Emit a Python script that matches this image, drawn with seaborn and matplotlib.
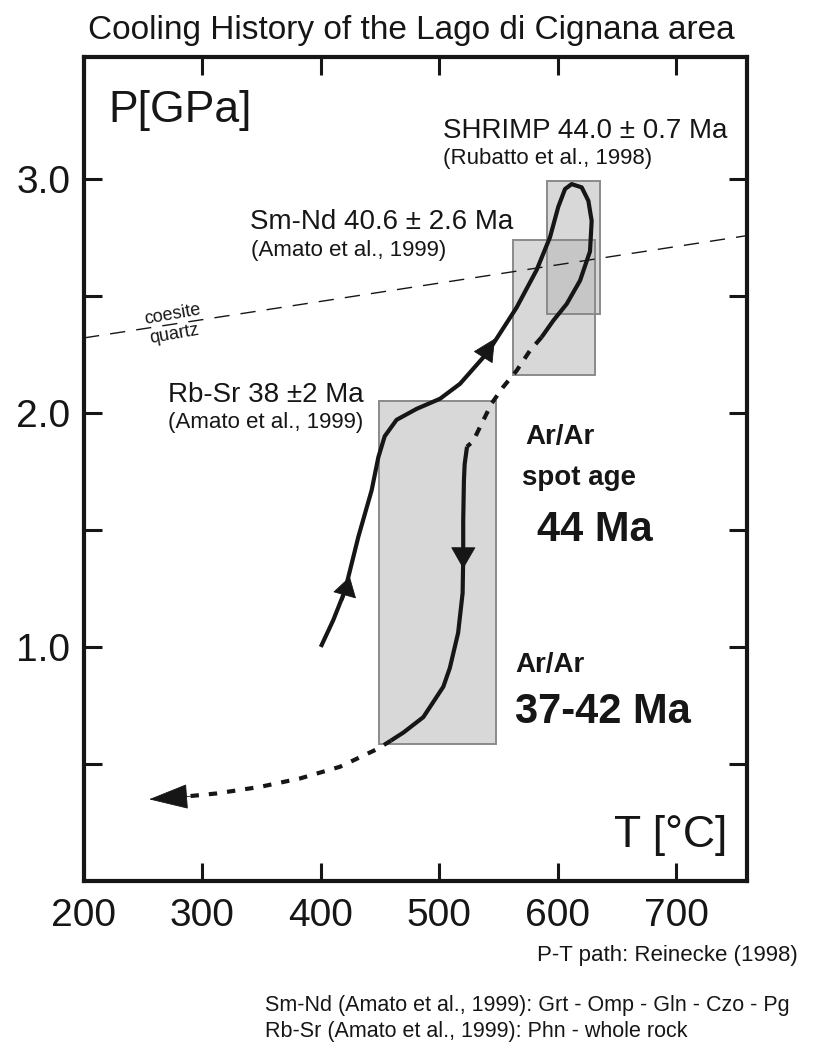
import numpy as np
import pandas as pd
import matplotlib
matplotlib.use("Agg")
import matplotlib.pyplot as plt
from matplotlib.patches import Rectangle
import seaborn as sns

# ---------------- data ----------------
x_ticks = [200, 300, 400, 500, 600, 700]
x_labels = ["200", "300", "400", "500", "600", "700"]
y_major = [1.0, 2.0, 3.0]
y_labels = ["1.0", "2.0", "3.0"]
y_minor = [0.5, 1.5, 2.5]

box_names = ["Rb-Sr", "Sm-Nd", "SHRIMP"]
box_tmin = [449, 562, 591]
box_tmax = [548, 632, 636]
box_pmin = [0.585, 2.16, 2.42]
box_pmax = [2.05, 2.74, 2.99]

coesite_T = [200, 760]
coesite_P = [2.32, 2.757]

# prograde path + peak loop (solid)
pro_T = [400, 410.5, 420.4, 431.7, 443, 448.6, 454, 464, 481, 500.7, 517.6,
         538.7, 545.7, 565.4, 582.3, 593.6, 600.6, 606.3, 611.9, 620.4, 626,
         628.8, 627.4, 619, 607.7, 596.4, 586.5]
pro_P = [1.0, 1.114, 1.24, 1.47, 1.67, 1.81, 1.90, 1.97, 2.017, 2.06, 2.124,
         2.245, 2.295, 2.45, 2.61, 2.75, 2.88, 2.956, 2.977, 2.963, 2.906,
         2.82, 2.69, 2.565, 2.465, 2.394, 2.323]
# retrograde dashed part
rdash_T = [586.5, 576.7, 565.4, 554, 544.3, 535.8, 528.8, 523.5]
rdash_P = [2.323, 2.266, 2.18, 2.11, 2.04, 1.953, 1.88, 1.855]
# retrograde solid part
rsol_T = [523.5, 521.5, 520.9, 520.3, 520.3, 519.8, 516, 509, 503.5, 486.6, 470, 459.3]
rsol_P = [1.855, 1.78, 1.71, 1.54, 1.38, 1.23, 1.06, 0.91, 0.83, 0.70, 0.635, 0.60]
# exhumation dashed part
edash_T = [459.3, 448.6, 416.2, 382.4, 348.6, 312, 286]
edash_P = [0.60, 0.566, 0.488, 0.438, 0.402, 0.374, 0.361]

# arrow heads (tail -> tip)
arr_tail_T = [419, 535, 520.4, 290]
arr_tail_P = [1.20, 2.22, 1.45, 0.362]
arr_tip_T = [424.5, 547, 520.3, 255]
arr_tip_P = [1.30, 2.317, 1.334, 0.349]
arr_len = [1.3, 1.5, 1.45, 2.6]
arr_wid = [0.8, 0.75, 0.83, 0.83]

# ---------------- style ----------------
sns.set_theme(style="ticks")
plt.rcParams["font.family"] = ["Liberation Sans", "DejaVu Sans"]
INK = "#161616"

fig = plt.figure(figsize=(8.2, 10.55), dpi=100)
ax = fig.add_axes([84 / 820, 1 - 881 / 1055, (747 - 84) / 820, (881 - 57) / 1055])
ax.set_facecolor("white")

# boxes
for t0, t1, p0, p1 in zip(box_tmin, box_tmax, box_pmin, box_pmax):
    ax.add_patch(Rectangle((t0, p0), t1 - t0, p1 - p0, facecolor="#b8b8b8",
                           alpha=0.55, edgecolor="none", zorder=1))
    ax.add_patch(Rectangle((t0, p0), t1 - t0, p1 - p0, facecolor="none",
                           edgecolor="#8a8a8a", lw=1.4, zorder=1.5))

# coesite-quartz reaction
sns.lineplot(x=coesite_T, y=coesite_P, ax=ax, color=INK, lw=1.0,
             linestyle=(0, (11, 8)), sort=False, estimator=None, zorder=2)
ax.text(275, 2.42, "coesite", rotation=10, ha="center", va="center",
        fontsize=13, color=INK)
ax.text(276, 2.335, "quartz", rotation=10, ha="center", va="center",
        fontsize=13, color=INK)

# P-T path
sns.lineplot(x=pro_T, y=pro_P, ax=ax, color=INK, lw=3.0, sort=False,
             estimator=None, zorder=4, solid_capstyle="butt")
sns.lineplot(x=rdash_T, y=rdash_P, ax=ax, color=INK, lw=3.0, sort=False,
             estimator=None, zorder=4, linestyle=(0, (2.2, 2.2)),
             dash_capstyle="butt")
sns.lineplot(x=rsol_T, y=rsol_P, ax=ax, color=INK, lw=3.0, sort=False,
             estimator=None, zorder=4, solid_capstyle="butt")
sns.lineplot(x=edash_T, y=edash_P, ax=ax, color=INK, lw=3.0, sort=False,
             estimator=None, zorder=4, linestyle=(0, (2.0, 2.4)),
             dash_capstyle="butt")

for tt, tp, ht, hp, L, W in zip(arr_tail_T, arr_tail_P, arr_tip_T, arr_tip_P,
                                arr_len, arr_wid):
    ax.annotate("", xy=(ht, hp), xytext=(tt, tp),
                arrowprops=dict(arrowstyle=f"-|>,head_length={L},head_width={W}",
                                color=INK, lw=0.6, shrinkA=0, shrinkB=0,
                                mutation_scale=10), zorder=5)

# labels
ax.text(220.3, 3.29, "P[GPa]", fontsize=32, ha="left", va="center", color=INK)
ax.text(743, 0.196, "T [°C]", fontsize=32, ha="right", va="center", color=INK)

ax.text(503, 3.205, "SHRIMP 44.0 ± 0.7 Ma", fontsize=20, ha="left", va="center", color=INK)
ax.text(503, 3.086, "(Rubatto et al., 1998)", fontsize=16, ha="left", va="center", color=INK)
ax.text(340, 2.817, "Sm-Nd 40.6 ± 2.6 Ma", fontsize=20, ha="left", va="center", color=INK)
ax.text(341, 2.693, "(Amato et al., 1999)", fontsize=16, ha="left", va="center", color=INK)
ax.text(271, 2.078, "Rb-Sr 38 ±2 Ma", fontsize=20, ha="left", va="center", color=INK)
ax.text(271, 1.959, "(Amato et al., 1999)", fontsize=16, ha="left", va="center", color=INK)

ax.text(572.5, 1.895, "Ar/Ar", fontsize=20, fontweight="bold", ha="left", va="center", color=INK)
ax.text(570, 1.72, "spot age", fontsize=20, fontweight="bold", ha="left", va="center", color=INK)
ax.text(582.6, 1.498, "44 Ma", fontsize=30, fontweight="bold", ha="left", va="center", color=INK)
ax.text(564, 0.922, "Ar/Ar", fontsize=20, fontweight="bold", ha="left", va="center", color=INK)
ax.text(564, 0.721, "37-42 Ma", fontsize=30, fontweight="bold", ha="left", va="center", color=INK)

# axes
ax.set_xlim(200, 760)
ax.set_ylim(0, 3.52)
ax.set_xticks(x_ticks)
ax.set_xticklabels(x_labels)
ax.set_yticks(y_major)
ax.set_yticklabels(y_labels)
ax.set_yticks(y_minor, minor=True)
ax.set_xlabel("")
ax.set_ylabel("")
ax.tick_params(axis="both", which="both", direction="in", length=13, width=2.2,
               color=INK, top=True, right=True)
ax.tick_params(axis="x", labelsize=28, pad=12, labelcolor=INK)
ax.tick_params(axis="y", labelsize=28, pad=10, labelcolor=INK)
for s in ax.spines.values():
    s.set_linewidth(3.0)
    s.set_color(INK)
    s.set_visible(True)

# figure texts
fig.text(88 / 820, 1 - 30 / 1055, "Cooling History of the Lago di Cignana area",
         fontsize=24, ha="left", va="center", color=INK)
fig.text(798 / 820, 1 - 955 / 1055, "P-T path: Reinecke (1998)",
         fontsize=16, ha="right", va="center", color=INK)
fig.text(265 / 820, 1 - 1005 / 1055,
         "Sm-Nd (Amato et al., 1999): Grt - Omp - Gln - Czo - Pg",
         fontsize=15.5, ha="left", va="center", color=INK)
fig.text(265 / 820, 1 - 1032 / 1055,
         "Rb-Sr (Amato et al., 1999): Phn - whole rock",
         fontsize=15.5, ha="left", va="center", color=INK)

fig.savefig("out.png", dpi=100, facecolor="white")
